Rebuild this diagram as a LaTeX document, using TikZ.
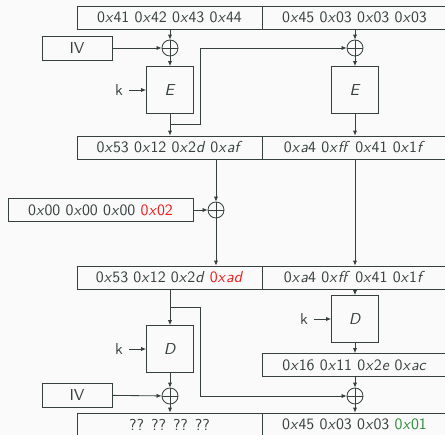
\documentclass[tikz,border=0pt]{standalone}
\usepackage{xcolor}
\usetikzlibrary{arrows.meta}
\definecolor{ink}{HTML}{36403F}
\definecolor{hotred}{HTML}{F01A1A}
\definecolor{okgreen}{HTML}{2E8B3A}
\definecolor{paper}{HTML}{FAFAFA}
\newcommand{\hx}[1]{0\textit{x}#1}
\tikzset{
  row/.style={draw,minimum width=111pt,minimum height=13.8pt,inner sep=0pt},
  ivbox/.style={draw,minimum width=42pt,minimum height=14.4pt,inner sep=0pt},
  cipher/.style={draw,minimum size=28.2pt,inner sep=0pt},
  xor/.style={circle,draw,minimum size=9.6pt,inner sep=0pt,
    path picture={\draw (path picture bounding box.north)--(path picture bounding box.south)
      (path picture bounding box.west)--(path picture bounding box.east);}},
}
\begin{document}
\begin{tikzpicture}[>={Latex[length=3pt,width=2.6pt]},x=0.6pt,y=-0.6pt,
  font=\sffamily\fontsize{9.5}{11}\selectfont,color=ink,line width=0.5pt]
  \fill[paper] (0,0) rectangle (445,435);
  \useasboundingbox (0,0) rectangle (445,435);
  % encryption
  \node[row] (p1) at (169.5,17.5) {\hx{41} \hx{42} \hx{43} \hx{44}};
  \node[row] (p2) at (354.5,17.5) {\hx{45} \hx{03} \hx{03} \hx{03}};
  \node[ivbox] (iv1) at (77,48) {IV};
  \node[xor] (x1) at (170,48) {};
  \node[xor] (x2) at (355,48) {};
  \node[cipher] (e1) at (170,90) {\textit{E}};
  \node[cipher] (e2) at (355,90) {\textit{E}};
  \node (k1) at (119,90) {k};
  \node[row] (c1) at (169.5,147.5) {\hx{53} \hx{12} \hx{2\textit{d}} \hx{\textit{af}}};
  \node[row] (c2) at (354.5,147.5) {\hx{\textit{a}4} \hx{\textit{ff}} \hx{41} \hx{1\textit{f}}};
  \coordinate (b1) at (170,124);
  \coordinate (t1) at (200,124);
  \draw[->] (p1.south -| x1) -- (x1);
  \draw[->] (iv1) -- (x1);
  \draw[->] (x1) -- (e1);
  \draw[->] (k1) -- (e1);
  \draw[->] (e1) -- (e1 |- c1.north);
  \draw[->] (b1) -- (t1) |- (x2);
  \draw[->] (p2.south -| x2) -- (x2);
  \draw[->] (x2) -- (e2);
  \draw[->] (e2) -- (e2 |- c2.north);
  % tampering
  \node[row] (mask) at (100.5,210) {\hx{00} \hx{00} \hx{00} \textcolor{hotred}{\hx{02}}};
  \node[xor] (xm) at (216,210) {};
  \node[row] (m1) at (169.5,277.5) {\hx{53} \hx{12} \hx{2\textit{d}} \textcolor{hotred}{\hx{\textit{ad}}}};
  \node[row] (m2) at (354.5,277.5) {\hx{\textit{a}4} \hx{\textit{ff}} \hx{41} \hx{1\textit{f}}};
  \draw[->] (c1.south -| xm) -- (xm);
  \draw[->] (mask) -- (xm);
  \draw[->] (xm) -- (xm |- m1.north);
  \draw[->] (c2.south -| e2) -- (m2.north -| e2);
  % decryption
  \node[cipher] (d2) at (355,319) {\textit{D}};
  \node (k3) at (304,319) {k};
  \node[row] (q2) at (354.5,365) {\hx{16} \hx{11} \hx{2\textit{e}} \hx{\textit{ac}}};
  \node[cipher] (d1) at (170,349) {\textit{D}};
  \node (k2) at (119,349) {k};
  \node[ivbox] (iv2) at (77,395) {IV};
  \node[xor] (x3) at (170,396) {};
  \node[xor] (x4) at (355,396) {};
  \node[row] (r1) at (169.5,424.5) {?? ?? ?? ??};
  \node[row] (r2) at (354.5,424.5) {\hx{45} \hx{03} \hx{03} \textcolor{okgreen}{\hx{01}}};
  \coordinate (b2) at (170,307);
  \coordinate (t2) at (200,307);
  \draw[->] (m2.south -| d2) -- (d2);
  \draw[->] (k3) -- (d2);
  \draw[->] (d2) -- (d2 |- q2.north);
  \draw[->] (q2.south -| x4) -- (x4);
  \draw[->] (x4) -- (x4 |- r2.north);
  \draw[->] (m1.south -| d1) -- (d1);
  \draw[->] (b2) -- (t2) |- (x4);
  \draw[->] (k2) -- (d1);
  \draw[->] (d1) -- (x3);
  \draw[->] (iv2) -- (x3);
  \draw[->] (x3) -- (x3 |- r1.north);
\end{tikzpicture}
\end{document}
